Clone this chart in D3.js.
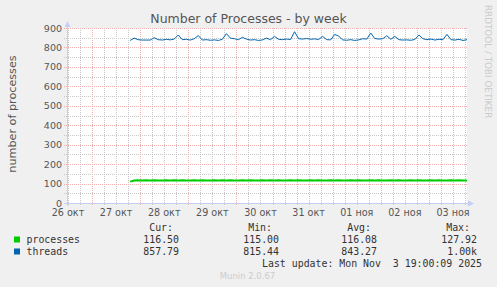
<!DOCTYPE html>
<html>
<head>
<meta charset="utf-8">
<script src="https://cdn.jsdelivr.net/npm/d3@7"></script>
<style>
html,body{margin:0;padding:0;background:#f0f0f0;}
svg{display:block;}
text{font-family:"DejaVu Sans",sans-serif;}
.mono{font-family:"DejaVu Sans Mono",monospace;white-space:pre;}
.grid line{shape-rendering:crispEdges;}
</style>
</head>
<body>
<svg id="chart" width="497" height="287"></svg>
<script>
// ---- data ----
const title = "Number of Processes - by week";
const yLabel = "number of processes";
const dayLabels = ["26 окт","27 окт","28 окт","29 окт","30 окт","31 окт","01 ноя","02 ноя","03 ноя"];
const yTicks = [0,100,200,300,400,500,600,700,800,900];
const seriesNames = ["processes","threads"];
const seriesColors = ["#00cc00","#0066b3"];
const stepHours = 2;
const seriesStart = Date.UTC(2025,9,27,19,0,0);
const processes = [110,116,117,116,117,116,117,116,116,117,116,117,116,117,116,116,117,116,117,116,116,117,116,117,116,117,116,116,117,116,117,116,116,117,116,117,116,117,116,116,117,116,117,116,116,117,116,117,116,116,117,116,117,116,116,117,116,117,116,116,117,116,117,116,116,117,116,117,116,116,117,116,117,116,116,117,116,117,116,116,117,116,117,116,116];
const threads = [836,848,840,838,838,838,850,840,838,842,839,843,864,840,842,838,845,861,838,840,837,839,836,842,871,848,845,840,852,843,838,840,836,839,848,840,857,842,840,843,841,881,845,843,846,842,844,841,857,840,839,867,858,839,837,840,836,839,845,843,874,846,843,845,860,842,857,840,838,839,837,841,864,845,840,843,838,842,840,867,840,838,842,836,840];
const legendHeaders = ["Cur:","Min:","Avg:","Max:"];
const legendValues = [["116.50","115.00","116.08","127.92"],["857.79","815.44","843.27","1.00k"]];
const lastUpdate = "Last update: Mon Nov  3 19:00:09 2025";
const footer = "Munin 2.0.67";
const watermark = "RRDTOOL / TOBI OETIKER";

// ---- layout ----
const svg = d3.select("#chart");
const L = 67, R = 467, T = 28, B = 203;
const tStart = Date.UTC(2025,9,26,11,30,0), tEnd = Date.UTC(2025,10,3,19,0,0);
const x = d3.scaleUtc().domain([new Date(tStart), new Date(tEnd)]).range([L, R]);
const y = d3.scaleLinear().domain([0, 900]).range([B, T]);

svg.append("rect").attr("x",0).attr("y",0).attr("width",497).attr("height",287).attr("fill","#f0f0f0");
svg.append("rect").attr("x",L).attr("y",T).attr("width",R-L).attr("height",B-T).attr("fill","#ffffff");

const grid = svg.append("g").attr("class","grid");
const redC = "#f2b0b0", greyC = "#c8c8c8";
// vertical (6h minor, midnight major)
const sixH = d3.utcHour.every(6).range(new Date(tStart), new Date(tEnd));
sixH.forEach(d => {
  const isMid = d.getUTCHours() === 0;
  const xx = Math.round(x(d)) + 0.5;
  grid.append("line").attr("x1",xx).attr("x2",xx).attr("y1",T).attr("y2",B+3)
    .attr("stroke", isMid ? redC : greyC)
    .attr("stroke-dasharray","1,1");
});
// horizontal
d3.range(50, 901, 50).forEach(v => {
  const major = v % 100 === 0;
  const yy = Math.round(y(v)) + 0.5;
  grid.append("line").attr("x1",L-3).attr("x2",R+1).attr("y1",yy).attr("y2",yy)
    .attr("stroke", major ? redC : greyC)
    .attr("stroke-dasharray","1,1");
});

// axes (lavender with arrows)
const axc = "#c6cef5";
svg.append("line").attr("x1",L+0.5).attr("x2",L+0.5).attr("y1",B+3).attr("y2",T-4).attr("stroke",axc).attr("shape-rendering","crispEdges");
svg.append("path").attr("d",`M${L-2.5},${T-1} L${L+3.5},${T-1} L${L+0.5},${T-7} Z`).attr("fill",axc);
svg.append("line").attr("x1",L-3).attr("x2",R+4).attr("y1",B+0.5).attr("y2",B+0.5).attr("stroke",axc).attr("shape-rendering","crispEdges");
svg.append("path").attr("d",`M${R+1},${B-2.5} L${R+1},${B+3.5} L${R+7},${B+0.5} Z`).attr("fill",axc);

// y tick labels
svg.append("g").selectAll("text").data(yTicks).join("text")
  .attr("x", 62).attr("y", d => y(d) + 3.5).attr("text-anchor","end")
  .attr("font-size","9.5px").attr("fill","#555").text(d => d);

// x tick labels (at noon)
const noons = d3.range(dayLabels.length).map(i => new Date(Date.UTC(2025,9,26+i,12,0,0)));
svg.append("g").selectAll("text").data(dayLabels).join("text")
  .attr("x", (d,i) => x(noons[i])).attr("y", 216).attr("text-anchor","middle")
  .attr("font-size","9.6px").attr("fill","#555").text(d => d);

// title
svg.append("text").attr("x",248.5).attr("y",23).attr("text-anchor","middle")
  .attr("font-size","12.5px").attr("fill","#555").text(title);
// y label
svg.append("text").attr("transform","translate(15.5,114) rotate(-90)").attr("text-anchor","middle")
  .attr("font-size","11.2px").attr("fill","#555").text(yLabel);
// watermark
svg.append("text").attr("transform","translate(485,5) rotate(90)").attr("text-anchor","start")
  .attr("font-size","8.8px").attr("fill","#cccccc").text(watermark);

// series
const tOf = i => new Date(seriesStart + i*stepHours*3600000);
const line = d3.line().x((d,i) => x(tOf(i))).y(d => y(d));
svg.append("path").datum(processes).attr("d", line).attr("fill","none")
  .attr("stroke",seriesColors[0]).attr("stroke-width",2);
svg.append("path").datum(threads).attr("d", line).attr("fill","none")
  .attr("stroke",seriesColors[1]).attr("stroke-width",1);

// legend
const lg = svg.append("g").attr("font-size","9.9px").attr("fill","#333");
const colEnds = [179,279,377,477];
const headEnds = [173,272,371,470];
legendHeaders.forEach((h,i) => lg.append("text").attr("class","mono").attr("x",headEnds[i]).attr("y",231).attr("text-anchor","end").text(h));
seriesNames.forEach((n,r) => {
  const yy = 243 + r*12;
  lg.append("rect").attr("x",14).attr("y",yy-6.5).attr("width",6).attr("height",6).attr("fill",seriesColors[r]);
  lg.append("text").attr("class","mono").attr("x",26.5).attr("y",yy).text(n);
  legendValues[r].forEach((v,c) => lg.append("text").attr("class","mono").attr("x",colEnds[c]).attr("y",yy).attr("text-anchor","end").text(v));
});
lg.append("text").attr("class","mono").attr("x",482).attr("y",267).attr("text-anchor","end").text(lastUpdate);
svg.append("text").attr("x",247.5).attr("y",279).attr("text-anchor","middle").attr("font-size","8.5px").attr("fill","#cccccc").text(footer);
</script>
</body>
</html>
